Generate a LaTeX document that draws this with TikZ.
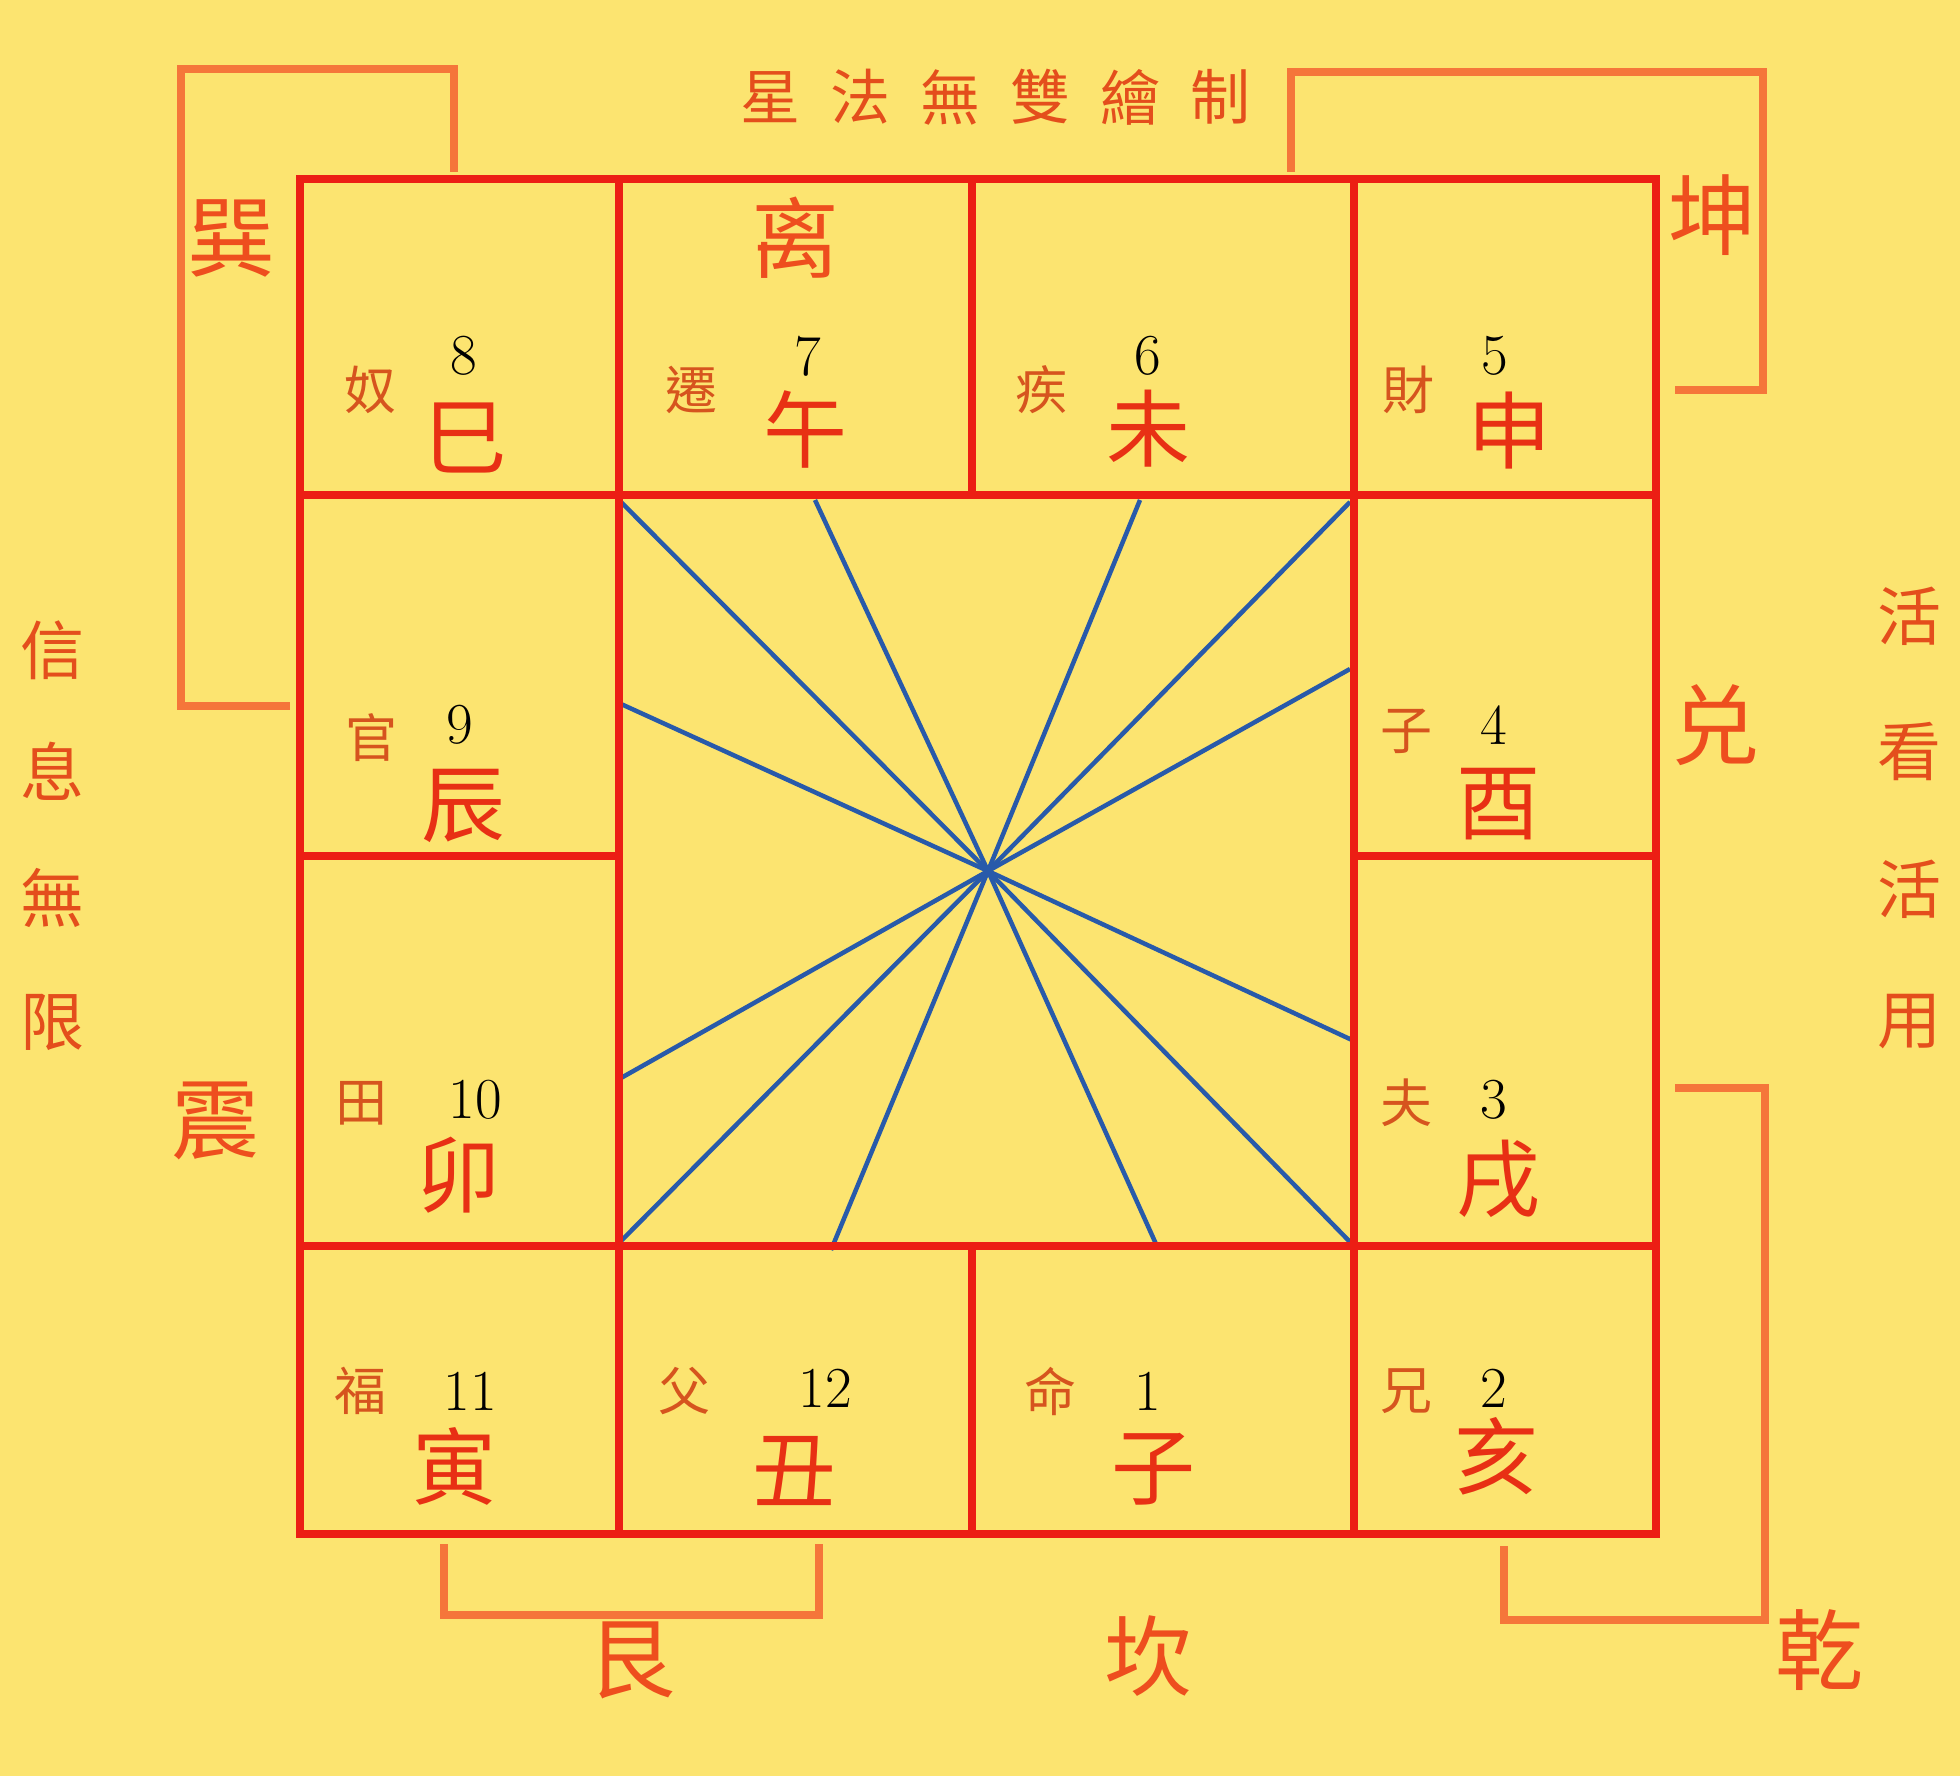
\documentclass[tikz,border=0pt]{standalone}
\usepackage{fontspec}
\newfontfamily\cjk{Noto Sans CJK TC}
\definecolor{bgyellow}{RGB}{252,228,112}
\definecolor{gridred}{RGB}{236,30,20}
\definecolor{brkorange}{RGB}{245,118,58}
\definecolor{rayblue}{RGB}{40,90,170}
\definecolor{branchred}{RGB}{232,48,20}
\definecolor{lblorange}{RGB}{214,84,30}
\definecolor{trired}{RGB}{238,78,30}
\definecolor{sidered}{RGB}{228,78,28}
\begin{document}
\begin{tikzpicture}[x=1pt,y=-1pt,
  gridline/.style={draw=gridred,line width=8pt},
  brk/.style={draw=brkorange,line width=7.5pt},
  ray/.style={draw=rayblue,line width=4.5pt},
  branch/.style={font=\cjk\fontsize{84}{84}\selectfont,text=branchred,inner sep=0pt},
  num/.style={font=\fontsize{58}{58}\selectfont,text=black,inner sep=0pt},
  lbl/.style={font=\cjk\fontsize{52}{52}\selectfont,text=lblorange,inner sep=0pt},
  tri/.style={font=\cjk\fontsize{88}{88}\selectfont,text=trired,inner sep=0pt},
  title/.style={font=\cjk\fontsize{60}{60}\selectfont,text=sidered,inner sep=0pt},
  sidetxt/.style={font=\cjk\fontsize{64}{64}\selectfont,text=sidered,inner sep=0pt}]
\useasboundingbox (0,0) rectangle (1960,1776);
\fill[bgyellow] (0,0) rectangle (1960,1776);

% brackets
\draw[brk] (454,172) -- (454,69) -- (181,69) -- (181,706) -- (290,706);
\draw[brk] (1291,172) -- (1291,72) -- (1763,72) -- (1763,390) -- (1675,390);
\draw[brk] (1675,1088) -- (1765,1088) -- (1765,1620) -- (1504,1620) -- (1504,1546);
\draw[brk] (444,1544) -- (444,1615) -- (819,1615) -- (819,1544);

% rays
\coordinate (c) at (988,871);
\foreach \xx/\yy [count=\i] in {621/502,815/500,1140/500,1350/502,1350/669,1352/1040,1352/1244,1156/1244,831/1250,621/1241,621/1078,621/704}
  \coordinate (r\i) at (\xx,\yy);
\foreach \i in {1,...,12} \draw[ray] (c) -- (r\i);

% grid
\draw[gridline] (300,179) rectangle (1656,1534);
\draw[gridline] (300,495) -- (1656,495);
\draw[gridline] (300,1246) -- (1656,1246);
\draw[gridline] (300,856) -- (619,856);
\draw[gridline] (1354,856) -- (1656,856);
\draw[gridline] (619,179) -- (619,1534);
\draw[gridline] (1354,179) -- (1354,1534);
\draw[gridline] (972,179) -- (972,495);
\draw[gridline] (972,1246) -- (972,1534);

% branches
\node[branch] (b1) at (465,438) {巳};
\node[branch] (b2) at (805,429) {午};
\node[branch] (b3) at (1148,429) {未};
\node[branch] (b4) at (1509,431) {申};
\node[branch] (b5) at (463,806) {辰};
\node[branch] (b6) at (1498,804) {酉};
\node[branch] (b7) at (458,1175) {卯};
\node[branch] (b8) at (1498,1179) {戌};
\node[branch] (b9) at (454,1466) {寅};
\node[branch] (b10) at (794,1471) {丑};
\node[branch] (b11) at (1153,1469) {子};
\node[branch] (b12) at (1496,1456) {亥};

% numbers
\node[num] (n8) at (464,356) {8};
\node[num] (n7) at (808,356) {7};
\node[num] (n6) at (1148,356) {6};
\node[num] (n5) at (1495,356) {5};
\node[num] (n9) at (460,725) {9};
\node[num] (n4) at (1494,725) {4};
\node[num] (n10) at (475,1100) {10};
\node[num] (n3) at (1494,1100) {3};
\node[num] (n11) at (470,1391) {11};
\node[num] (n12) at (825,1388) {12};
\node[num] (n1) at (1148,1391) {1};
\node[num] (n2) at (1494,1388) {2};

% palace labels
\node[lbl] (l1) at (370,390) {奴};
\node[lbl] (l2) at (691,390) {遷};
\node[lbl] (l3) at (1041,390) {疾};
\node[lbl] (l4) at (1408,390) {財};
\node[lbl] (l5) at (371,738) {官};
\node[lbl] (l6) at (1406,731) {子};
\node[lbl] (l7) at (361,1103) {田};
\node[lbl] (l8) at (1406,1103) {夫};
\node[lbl] (l9) at (360,1391) {福};
\node[lbl] (l10) at (684,1391) {父};
\node[lbl] (l11) at (1050,1391) {命};
\node[lbl] (l12) at (1406,1391) {兄};

% trigrams
\node[tri] (t1) at (231,238) {巽};
\node[tri] (t2) at (795,238) {离};
\node[tri] (t3) at (1712,215) {坤};
\node[tri] (t4) at (1715,725) {兑};
\node[tri] (t5) at (215,1121) {震};
\node[tri] (t6) at (631,1660) {艮};
\node[tri] (t7) at (1148,1656) {坎};
\node[tri] (t8) at (1819,1650) {乾};

% title
\foreach \ch [count=\i] in {星,法,無,雙,繪,制}
  \node[title] (h\i) at ({770+90*(\i-1)},97) {\ch};

% side texts
\foreach \ch/\yy [count=\i] in {信/650,息/771,無/898,限/1022}
  \node[sidetxt] (sl\i) at (52,\yy) {\ch};
\foreach \ch/\yy [count=\i] in {活/616,看/751,活/889,用/1022}
  \node[sidetxt] (sr\i) at (1909,\yy) {\ch};
\end{tikzpicture}
\end{document}
